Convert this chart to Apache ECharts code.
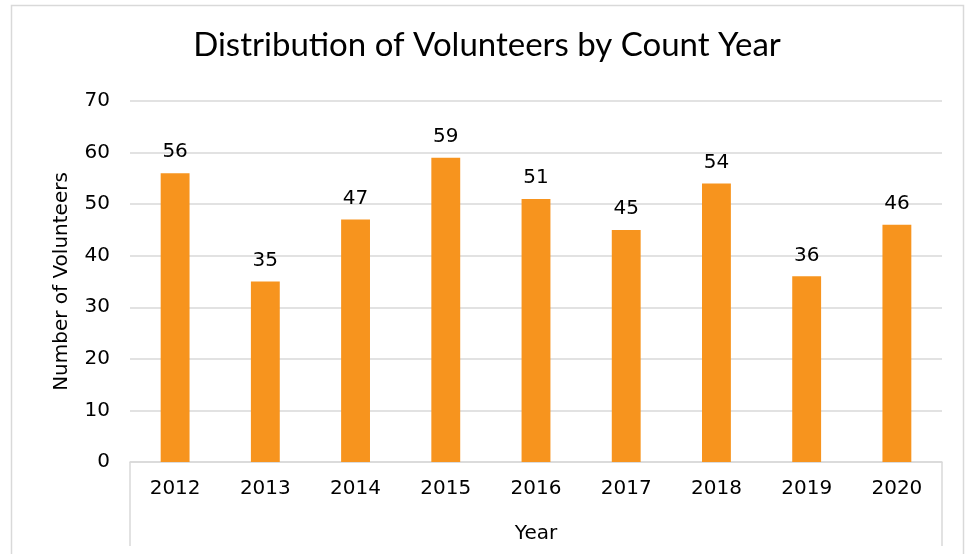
<!DOCTYPE html>
<html><head><meta charset="utf-8">
<script src="https://cdn.jsdelivr.net/npm/echarts@6/dist/echarts.min.js"></script>
<style>html,body{margin:0;padding:0;background:#fff}#c{width:974px;height:554px}</style>
</head><body><div id="c"></div>
<script>
const title = 'Distribution of Volunteers by Count Year';
const categories = ['2012','2013','2014','2015','2016','2017','2018','2019','2020'];
const volunteers = [56,35,47,59,51,45,54,36,46];
const yTicks = [0,10,20,30,40,50,60,70];
const FONT = 'DejaVu Sans';
const chart = echarts.init(document.getElementById('c'));
chart.setOption({
  animation: false,
  textStyle: {fontFamily: FONT},
  title: {text: title, left: 'center', top: 24,
    textStyle: {fontFamily: 'Lato', fontSize: 33, fontWeight: 'normal', color: '#000'}},
  graphic: [{type: 'rect', shape: {x: 11.5, y: 5.5, width: 952, height: 600},
    style: {fill: 'none', stroke: '#d9d9d9', lineWidth: 1.5}, silent: true, z: -1}],
  grid: {left: 130, right: 32, top: 101, bottom: 92},
  xAxis: {type: 'category', data: categories,
    axisLine: {lineStyle: {color: '#d9d9d9', width: 1.5}},
    axisTick: {show: true, length: 84, interval: function(i){ return i === 0; },
      lineStyle: {color: '#d9d9d9', width: 1.5}},
    axisLabel: {margin: 17, fontSize: 20, color: '#000', fontFamily: FONT},
    name: 'Year', nameLocation: 'middle', nameGap: 62,
    nameTextStyle: {fontSize: 20, color: '#000', fontFamily: FONT}},
  yAxis: {type: 'value', min: yTicks[0], max: yTicks[yTicks.length-1], interval: 10,
    axisLine: {show: false}, axisTick: {show: false},
    splitLine: {lineStyle: {color: '#d9d9d9', width: 1.5}},
    axisLabel: {margin: 20, fontSize: 20, color: '#000', fontFamily: FONT},
    name: 'Number of Volunteers', nameLocation: 'middle', nameGap: 58,
    nameTextStyle: {fontSize: 20, color: '#000', fontFamily: FONT}},
  series: [{type: 'bar', data: volunteers, barWidth: '32%',
    itemStyle: {color: '#F7941E'},
    label: {show: true, position: 'top', distance: 11, fontSize: 20, color: '#000', fontFamily: FONT}}]
});
</script></body></html>
